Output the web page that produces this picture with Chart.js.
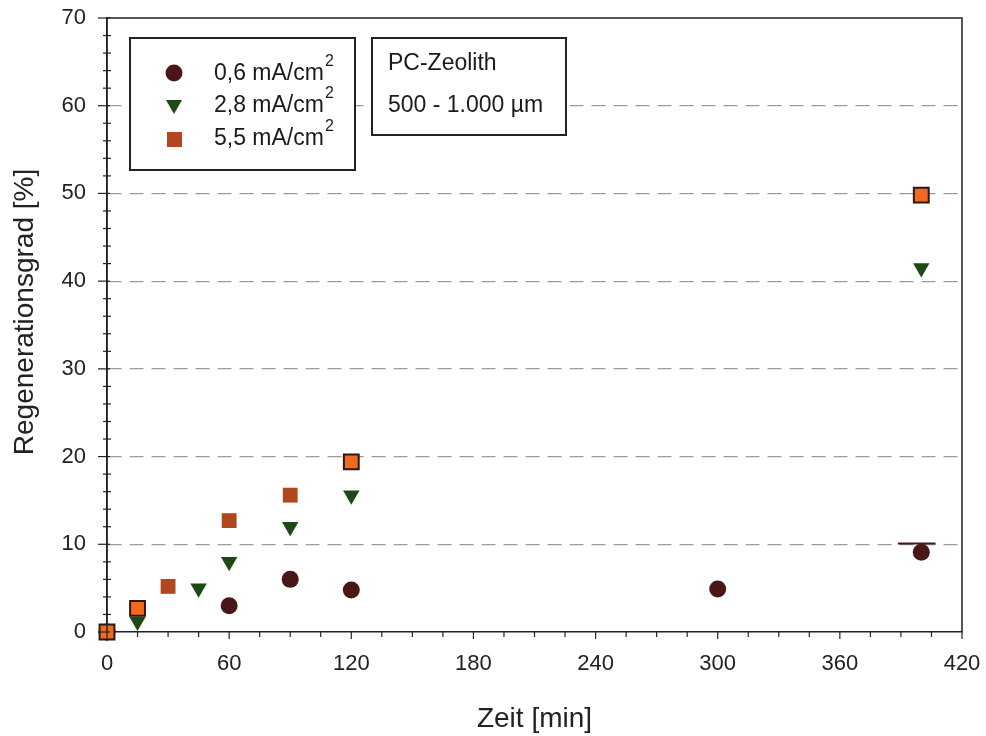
<!DOCTYPE html>
<html lang="de">
<head>
<meta charset="UTF-8">
<title>Regenerationsgrad</title>
<script src="https://cdn.jsdelivr.net/npm/chart.js"></script>
<style>
  html, body { margin: 0; padding: 0; background: #fff; }
  #wrap { width: 986px; height: 736px; position: relative; }
</style>
</head>
<body>
<div id="wrap"><canvas id="chart"></canvas></div>
<script>
// Zeit [min] und Regenerationsgrad [%]
const zeit06 = [0, 60, 90, 120, 300, 400];
const wert06 = [0, 3.0, 6.0, 4.8, 4.9, 9.1];
const zeit28 = [0, 15, 45, 60, 90, 120, 400];
const wert28 = [0, 1.2, 5.0, 8.0, 12.0, 15.6, 41.5];
const zeit55 = [0, 15, 30, 60, 90, 120, 400];
const wert55 = [0, 2.7, 5.2, 12.7, 15.6, 19.4, 49.8];
const umrandet55 = [true, true, false, false, false, true, true];
const strichX = [388.5, 407];
const strichY = 10.1;

const legende = ['0,6 mA/cm', '2,8 mA/cm', '5,5 mA/cm'];
const infoText = ['PC-Zeolith', '500 - 1.000 µm'];
const xTicks = [0, 60, 120, 180, 240, 300, 360, 420];

const C_KREIS = '#4a1718';
const C_DREIECK = '#1f4914';
const C_QUADRAT = '#b0471f';
const C_QUADRAT_HELL = '#f26a21';
const FONT = '"Liberation Sans", Arial, sans-serif';

const pts = (xs, ys) => xs.map((x, i) => ({ x: x, y: ys[i] }));

// Rahmen, Nebenstriche, Textkästen, y-Titel
const extras = {
  id: 'extras',
  afterDraw(chart) {
    const ctx = chart.ctx;
    const a = chart.chartArea;
    const xs = chart.scales.x, ys = chart.scales.y;
    ctx.save();
    ctx.setLineDash([]);
    ctx.strokeStyle = '#222';
    ctx.lineWidth = 1.5;
    ctx.beginPath();
    ctx.moveTo(a.left, a.bottom); ctx.lineTo(a.left, a.top);
    ctx.lineTo(a.right, a.top); ctx.lineTo(a.right, a.bottom);
    ctx.stroke();
    ctx.lineWidth = 1.2;
    for (let v = 0; v <= 70; v += 2) {
      const y = ys.getPixelForValue(v);
      ctx.beginPath();
      if (v % 10 === 0) { ctx.moveTo(a.left - 9, y); ctx.lineTo(a.left + 3, y); }
      else { ctx.moveTo(a.left - 4, y); ctx.lineTo(a.left + 4, y); }
      ctx.stroke();
    }
    for (let v = 0; v <= 420; v += 15) {
      const x = xs.getPixelForValue(v);
      ctx.beginPath();
      ctx.moveTo(x, a.bottom); ctx.lineTo(x, a.bottom + (v % 60 === 0 ? 7 : 5));
      ctx.stroke();
    }
    // Legende
    ctx.fillStyle = '#fff';
    ctx.lineWidth = 2;
    ctx.strokeStyle = '#222';
    ctx.fillRect(130, 38, 225, 132);
    ctx.strokeRect(130, 38, 225, 132);
    ctx.fillRect(372, 38, 194, 97);
    ctx.strokeRect(372, 38, 194, 97);
    const ly = [73, 105, 138];
    ctx.fillStyle = C_KREIS;
    ctx.beginPath(); ctx.arc(174, ly[0], 8.5, 0, Math.PI * 2); ctx.fill();
    ctx.fillStyle = C_DREIECK;
    ctx.beginPath(); ctx.moveTo(166, ly[1] - 5); ctx.lineTo(182, ly[1] - 5); ctx.lineTo(174, ly[1] + 9); ctx.closePath(); ctx.fill();
    ctx.fillStyle = C_QUADRAT;
    ctx.fillRect(167, ly[2] - 6, 15, 15);
    ctx.fillStyle = '#1a1a1a';
    ctx.textBaseline = 'middle';
    legende.forEach((t, i) => {
      ctx.font = '23px ' + FONT;
      ctx.fillText(t, 214, ly[i] + 1);
      const w = ctx.measureText(t).width;
      ctx.font = '16px ' + FONT;
      ctx.fillText('2', 214 + w + 1, ly[i] - 11);
    });
    ctx.font = '23px ' + FONT;
    ctx.fillText(infoText[0], 388, 64);
    ctx.fillText(infoText[1], 388, 106);
    // y-Achsentitel
    ctx.translate(25, 312);
    ctx.rotate(-Math.PI / 2);
    ctx.textAlign = 'center';
    ctx.font = '28px ' + FONT;
    ctx.fillStyle = '#222';
    ctx.fillText('Regenerationsgrad [%]', 0, 0);
    ctx.restore();
  }
};

new Chart(document.getElementById('chart'), {
  type: 'scatter',
  data: {
    datasets: [
      {
        label: '0,6 mA/cm²',
        data: pts(zeit06, wert06),
        pointStyle: 'circle',
        pointRadius: 8.5,
        backgroundColor: C_KREIS,
        borderWidth: 0,
        clip: false,
        order: 2
      },
      {
        label: 'strich',
        type: 'line',
        data: strichX.map(x => ({ x: x, y: strichY })),
        borderColor: C_KREIS,
        borderWidth: 2,
        pointRadius: 0,
        clip: false,
        order: 3
      },
      {
        label: '2,8 mA/cm²',
        data: pts(zeit28, wert28),
        pointStyle: 'triangle',
        rotation: 180,
        pointRadius: 9.5,
        backgroundColor: C_DREIECK,
        borderColor: C_DREIECK,
        borderWidth: 0,
        clip: false,
        order: 1
      },
      {
        label: '5,5 mA/cm²',
        data: pts(zeit55, wert55),
        pointStyle: 'rect',
        pointRadius: 10.5,
        backgroundColor: umrandet55.map(u => u ? C_QUADRAT_HELL : C_QUADRAT),
        borderColor: umrandet55.map(u => u ? '#2b1a12' : C_QUADRAT),
        borderWidth: umrandet55.map(u => u ? 2 : 0),
        clip: false,
        order: 0
      }
    ]
  },
  options: {
    responsive: true,
    maintainAspectRatio: false,
    animation: false,
    layout: { padding: { top: 18, right: 24, left: 0, bottom: 0 } },
    plugins: { legend: { display: false }, tooltip: { enabled: false } },
    scales: {
      x: {
        type: 'linear',
        min: 0, max: 420,
        afterBuildTicks: s => { s.ticks = xTicks.map(v => ({ value: v })); },
        afterFit: s => { s.height = 104; s.paddingLeft = 0; s.paddingRight = 0; },
        border: { color: '#222', width: 1.5 },
        grid: { display: false, drawTicks: false },
        ticks: { color: '#222', padding: 19, font: { size: 22, family: FONT } },
        title: { display: true, text: 'Zeit [min]', color: '#222', padding: { top: 0, bottom: 0 }, font: { size: 28, family: FONT } }
      },
      y: {
        min: 0, max: 70,
        afterFit: s => { s.width = 107; s.paddingTop = 0; s.paddingBottom = 0; },
        border: { color: '#222', width: 1.5, dash: [14, 8] },
        grid: {
          drawTicks: false,
          color: c => (c.tick && c.tick.value > 0 && c.tick.value < 70) ? '#9a9a9a' : 'rgba(0,0,0,0)',
          lineWidth: 1.2
        },
        ticks: { stepSize: 10, color: '#222', padding: 21, font: { size: 22, family: FONT } }
      }
    }
  },
  plugins: [extras]
});
</script>
</body>
</html>
